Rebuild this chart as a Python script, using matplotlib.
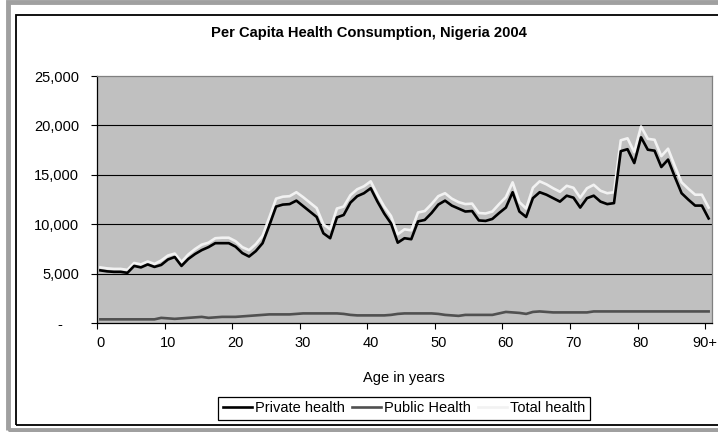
import matplotlib
matplotlib.use("Agg")
import matplotlib.pyplot as plt
import matplotlib.transforms as mtransforms
from matplotlib.patches import Rectangle

plt.rcParams['font.family'] = ['Liberation Sans', 'DejaVu Sans']

# ages 0..90 (last one is 90+)
ages = list(range(91))
xtick_pos = [0, 10, 20, 30, 40, 50, 60, 70, 80, 90]
xtick_labels = ['0', '10', '20', '30', '40', '50', '60', '70', '80', '90+']
ytick_pos = [0, 5000, 10000, 15000, 20000, 25000]
ytick_labels = ['-    ', '5,000', '10,000', '15,000', '20,000', '25,000']

private_health = [5350, 5250, 5200, 5200, 5100, 5800, 5650, 5950, 5700, 5900,
                  6450, 6700, 5800, 6500, 7000, 7400, 7700, 8100, 8100, 8100,
                  7750, 7100, 6750, 7300, 8100, 9900, 11800, 12000, 12050, 12400,
                  11850, 11300, 10750, 9100, 8600, 10700, 10950, 12200, 12850, 13150,
                  13650, 12300, 11100, 10100, 8150, 8600, 8500, 10300, 10450, 11150,
                  12000, 12400, 11900, 11600, 11300, 11350, 10400, 10350, 10550, 11150,
                  11700, 13250, 11300, 10750, 12650, 13250, 13000, 12650, 12300, 12900,
                  12700, 11700, 12650, 12900, 12300, 12050, 12150, 17400, 17600, 16200,
                  18800, 17550, 17450, 15800, 16550, 14800, 13150, 12500, 11900, 11900,
                  10600]

public_health = [400, 400, 400, 400, 400, 400, 400, 400, 400, 550,
                 500, 450, 500, 550, 600, 650, 550, 600, 650, 650,
                 650, 700, 750, 800, 850, 900, 900, 900, 900, 950,
                 1000, 1000, 1000, 1000, 1000, 1000, 950, 850, 800, 800,
                 800, 800, 800, 850, 950, 1000, 1000, 1000, 1000, 1000,
                 950, 850, 800, 750, 850, 850, 850, 850, 850, 1000,
                 1150, 1100, 1050, 950, 1150, 1200, 1150, 1100, 1100, 1100,
                 1100, 1100, 1100, 1200, 1200, 1200, 1200, 1200, 1200, 1200,
                 1200, 1200, 1200, 1200, 1200, 1200, 1200, 1200, 1200, 1200,
                 1200]

total_health = [5650, 5550, 5500, 5500, 5400, 6100, 5950, 6250, 6000, 6350,
                6850, 7050, 6200, 6950, 7500, 7950, 8150, 8600, 8650, 8650,
                8300, 7700, 7400, 8000, 8850, 10700, 12600, 12800, 12850, 13250,
                12750, 12200, 11650, 10000, 9500, 11600, 11800, 12950, 13550, 13850,
                14350, 13000, 11800, 10850, 9000, 9500, 9400, 11200, 11350, 12050,
                12850, 13150, 12600, 12250, 12050, 12100, 11150, 11100, 11300, 12050,
                12750, 14250, 12250, 11600, 13700, 14350, 14050, 13650, 13300, 13900,
                13700, 12700, 13650, 14000, 13400, 13150, 13250, 18500, 18700, 17300,
                19900, 18650, 18550, 16900, 17650, 15900, 14250, 13600, 13000, 13000,
                11700]

W, H = 718, 432
fig = plt.figure(figsize=(W / 100, H / 100), dpi=100)
fig.patch.set_facecolor('white')

# outer window frame and chart border (right side runs off the picture)
fig.patches.append(Rectangle((8 / W, 2 / H), 740 / W, 428 / H, transform=fig.transFigure,
                             fill=False, edgecolor='#a0a0a0', linewidth=3.5))
fig.patches.append(Rectangle((16 / W, (H - 425) / H), 740 / W, 410 / H, transform=fig.transFigure,
                             fill=False, edgecolor='black', linewidth=1.3))

ax = fig.add_axes([97 / W, (H - 323.3) / H, 615 / W, 247.3 / H])
ax.set_facecolor('#c0c0c0')

for yv in ytick_pos[1:-1]:
    ax.axhline(yv, color='black', linewidth=0.8, zorder=1)

ax.plot(ages, public_health, color='#505050', linewidth=1.9, label='Public Health', zorder=3)
ax.plot(ages, total_health, color='#f2f2f2', linewidth=1.9, label='Total health', zorder=3)
ax.plot(ages, private_health, color='black', linewidth=1.9, label='Private health', zorder=4)

ax.set_xlim(-0.5, 90.5)
ax.set_ylim(0, 25000)

ax.set_xticks(xtick_pos)
ax.set_xticklabels(xtick_labels)
ax.set_xticks([p - 0.5 for p in xtick_pos], minor=True)
ax.tick_params(axis='x', which='major', length=0, pad=9, labelsize=10.5)
ax.tick_params(axis='x', which='minor', length=4, width=0.8, direction='out')
ax.set_yticks(ytick_pos)
ax.set_yticklabels(ytick_labels)
ax.tick_params(axis='y', length=4, width=0.8, direction='out', pad=9, labelsize=10.5)

# keep "90+" inside the picture
last = ax.get_xticklabels()[-1]
last.set_transform(last.get_transform() + mtransforms.ScaledTranslation(-4 / 100, 0, fig.dpi_scale_trans))

ax.spines['left'].set_color('black')
ax.spines['bottom'].set_color('black')
ax.spines['top'].set_color('#808080')
ax.spines['right'].set_color('#808080')
for s in ax.spines.values():
    s.set_linewidth(0.9)

fig.text(369 / W, 1 - 33 / H, 'Per Capita Health Consumption, Nigeria 2004',
         ha='center', va='center', fontsize=10.6, fontweight='bold')
fig.text(404 / W, 1 - 378 / H, 'Age in years', ha='center', va='center', fontsize=10.5)

h, l = ax.get_legend_handles_labels()
order = [2, 0, 1]
leg = fig.legend([h[i] for i in order], [l[i] for i in order], loc='center',
                 bbox_to_anchor=(404 / W, 1 - 408.5 / H), ncol=3, fontsize=10.5,
                 frameon=True, fancybox=False, edgecolor='black', framealpha=1,
                 handlelength=2.0, handletextpad=0.2, columnspacing=0.5,
                 borderpad=0.3)
leg.get_frame().set_linewidth(0.9)

fig.savefig('out.png', dpi=100, facecolor='white')
